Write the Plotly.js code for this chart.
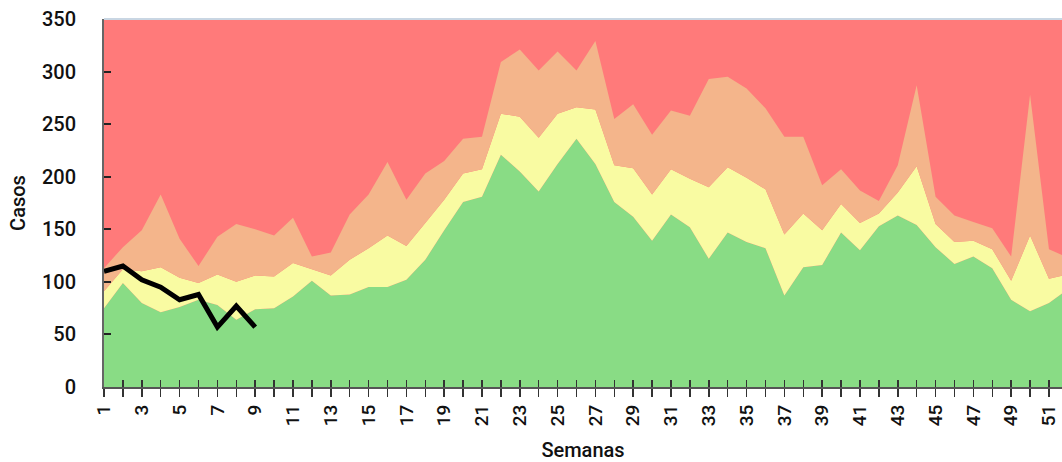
<!DOCTYPE html>
<html>
<head>
<meta charset="utf-8">
<script src="https://cdn.plot.ly/plotly-3.0.1.min.js"></script>
<style>html,body{margin:0;padding:0;background:#fff;}#chart{width:1062px;height:462px;}</style>
</head>
<body>
<div id="chart"></div>
<script>
// Semanas epidemiológicas
const semanas = [1,2,3,4,5,6,7,8,9,10,11,12,13,14,15,16,17,18,19,20,21,22,23,24,25,26,27,28,29,30,31,32,33,34,35,36,37,38,39,40,41,42,43,44,45,46,47,48,49,50,51,52];
// Límite superior de la zona de éxito (verde)
const exito = [75,99,80,71,76,83,78,64,74,75,86,101,87,88,95,95,102,121,149,176,181,221,205,186,212,236,212,176,162,139,164,152,122,147,138,132,87,114,116,147,130,153,163,154,133,117,124,113,83,72,80,93];
// Límite superior de la zona de seguridad (amarillo)
const seguridad = [91,112,110,114,104,99,107,100,106,105,118,112,106,121,132,144,134,156,178,203,207,260,257,237,260,266,264,211,208,183,207,198,190,209,199,188,145,165,149,174,156,165,185,210,155,138,139,131,101,144,103,107];
// Límite superior de la zona de alerta (naranja)
const alerta = [113,133,149,183,141,115,143,155,150,144,161,124,128,164,183,214,178,203,215,236,238,309,321,301,319,301,329,255,269,240,263,258,293,295,284,265,238,238,192,207,187,177,211,287,181,163,157,151,124,278,131,123];
// Casos del año actual
const semanasActual = [1,2,3,4,5,6,7,8,9];
const casosActual = [110,115,102,95,83,88,57,77,57];
// Eje Y
const yTicks = [0,50,100,150,200,250,300,350];
// Etiquetas del eje X (impares)
const xTickText = semanas.map(s => (s % 2 === 1 ? String(s) : ''));

const FONT = 'Roboto, "DejaVu Sans", sans-serif';
const TXT = '#111111';

const traces = [
  {x: semanas, y: exito, type: 'scatter', mode: 'lines', name: 'Éxito',
   line: {width: 0, color: '#89dc85'}, fill: 'tozeroy', fillcolor: '#89dc85', hoverinfo: 'skip'},
  {x: semanas, y: seguridad, type: 'scatter', mode: 'lines', name: 'Seguridad',
   line: {width: 0, color: '#f9fba2'}, fill: 'tonexty', fillcolor: '#f9fba2', hoverinfo: 'skip'},
  {x: semanas, y: alerta, type: 'scatter', mode: 'lines', name: 'Alerta',
   line: {width: 0, color: '#f4b58b'}, fill: 'tonexty', fillcolor: '#f4b58b', hoverinfo: 'skip'},
  {x: semanasActual, y: casosActual, type: 'scatter', mode: 'lines', name: 'Casos',
   line: {width: 5, color: '#000000', shape: 'linear'}, xaxis: 'x', yaxis: 'y'},
  // invisible trace to activate overlay axis carrying inside ticks
  {x: [semanas[0]], y: [yTicks[0]], type: 'scatter', mode: 'markers', marker: {opacity: 0},
   xaxis: 'x2', yaxis: 'y', hoverinfo: 'skip', showlegend: false}
];

const layout = {
  width: 1062, height: 462,
  margin: {l: 104, r: 0, t: 19, b: 75},
  paper_bgcolor: '#ffffff',
  plot_bgcolor: '#ff7a7a',
  showlegend: false,
  font: {family: FONT, color: TXT, size: 18, weight: 500},
  xaxis: {
    range: [1, 51.69], tickmode: 'array', tickvals: semanas, ticktext: xTickText,
    tickangle: -90, ticks: 'outside', ticklen: 8, tickwidth: 1.5, tickcolor: '#333',
    showline: true, linecolor: '#555', linewidth: 2, showgrid: false, zeroline: false,
    tickfont: {family: FONT, size: 19, color: TXT, weight: 500},
    title: {text: 'Semanas', font: {family: FONT, size: 20, color: TXT, weight: 500}, standoff: 22},
    automargin: false
  },
  xaxis2: {
    overlaying: 'x', matches: 'x', range: [1, 51.69], side: 'bottom', anchor: 'y',
    tickmode: 'array', tickvals: semanas, ticks: 'inside', ticklen: 7, tickwidth: 1.5,
    tickcolor: '#333', showticklabels: false, showline: false, showgrid: false, zeroline: false
  },
  yaxis: {
    range: [0, 350], tickmode: 'array', tickvals: yTicks,
    ticks: 'inside', ticklen: 7, tickwidth: 2, tickcolor: '#222',
    showline: true, linecolor: '#666', linewidth: 2, showgrid: false, zeroline: false,
    ticklabelstandoff: 22,
    tickfont: {family: FONT, size: 20, color: TXT, weight: 500},
    title: {text: 'Casos', font: {family: FONT, size: 20, color: TXT, weight: 500}, standoff: 11},
    automargin: false
  },
  shapes: [
    {type: 'line', xref: 'paper', yref: 'paper', x0: 0, x1: 1, y0: 1, y1: 1,
     line: {color: '#c9d6e3', width: 2}, layer: 'above'}
  ]
};

Plotly.newPlot('chart', traces, layout, {displayModeBar: false, staticPlot: true});
</script>
</body>
</html>
